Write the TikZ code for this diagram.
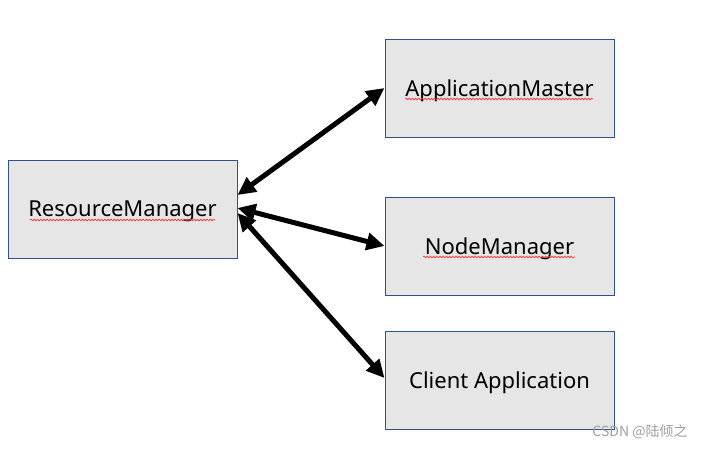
\documentclass[tikz,border=0pt]{standalone}
\usepackage{fontspec}
\setmainfont{Noto Sans}
\newfontfamily\cjk{Noto Sans CJK SC}
\usetikzlibrary{arrows.meta,decorations.pathmorphing}
\definecolor{boxfill}{RGB}{231,230,230}
\definecolor{boxline}{RGB}{47,82,143}

\begin{document}
\begin{tikzpicture}[x=1pt,y=-1pt,
    compbox/.style={draw=boxline, fill=boxfill, line width=1pt, minimum width=229pt, minimum height=98pt, inner sep=0pt, text depth=0pt, font=\fontsize{22}{25}\selectfont},
    biarrow/.style={{Triangle[length=18pt,width=17pt]}-{Triangle[length=18pt,width=17pt]}, line width=5pt},
    spell/.style={red!85!white, line width=0.6pt, decorate, decoration={snake, amplitude=0.9pt, segment length=3.2pt}}]
    \useasboundingbox (0,0) rectangle (704,448);
    % 绘制方框
    \node[compbox] (rm) at (122.5,209) {ResourceManager};
    \node[compbox] (am) at (499.5,88) {ApplicationMaster};
    \node[compbox] (nm) at (499.5,246) {NodeManager};
    \node[compbox] (ca) at (499.5,380) {Client Application};
    % 绘制箭头
    \draw[biarrow] ([yshift=14pt]rm.east) -- (am.west);
    \draw[biarrow] ([yshift=1pt]rm.east) -- (nm.west);
    \draw[biarrow] ([yshift=-4pt]rm.east) -- ([yshift=2pt]ca.west);
    % 拼写检查波浪线
    \draw[spell] (30,220) -- (215,220);
    \draw[spell] (405,99) -- (593,99);
    \draw[spell] (423,257) -- (575,257);
    % 水印
    \node[text=black!38, font=\cjk\fontsize{14}{16}\selectfont] (wm) at (640,432) {CSDN @陆倾之};
\end{tikzpicture}
\end{document}
